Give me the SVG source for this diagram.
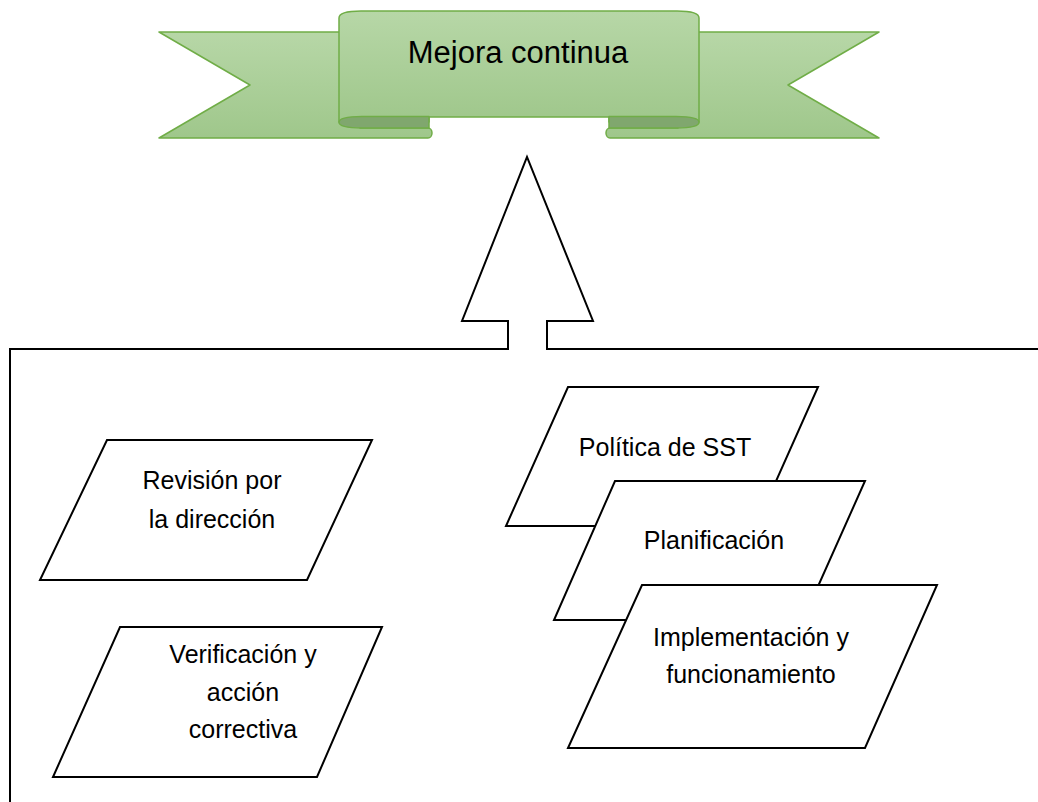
<svg xmlns="http://www.w3.org/2000/svg" width="1038" height="802" viewBox="0 0 1038 802">
<style>
.t{font-family:"Liberation Sans",Arial,sans-serif;font-size:25px;fill:#000;text-anchor:middle}
.title{font-family:"Liberation Sans",Arial,sans-serif;font-size:31px;fill:#000;text-anchor:middle}
.pg{fill:#fff;stroke:#000;stroke-width:2;stroke-linejoin:miter}
.rib{fill:url(#g);stroke:#70ad47;stroke-width:1.5;stroke-linejoin:round}
.fold{fill:#80a76e;stroke:#70ad47;stroke-width:1.5;stroke-linejoin:round}
.line{fill:none;stroke:#000;stroke-width:2;stroke-linejoin:miter}
</style>
<defs>
<linearGradient id="g" x1="0" y1="0" x2="0" y2="1" gradientUnits="objectBoundingBox">
<stop offset="0" stop-color="#b7d7a7"/>
<stop offset="1" stop-color="#9fc78b"/>
</linearGradient>
<g id="halfRibbon">
<path class="rib" d="M159,32 L360,32 L360,128 L428,128 A4,5 0 0 1 428,138 L159,138 L250,85 Z"/>
</g>
<g id="halfFold">
<path class="fold" d="M429,116.5 L362,116.5 Q339,116.5 339,122.3 Q339,128 362,128 L429,128 Z"/>
</g>
</defs>
<rect width="1038" height="802" fill="#fff"/>
<g id="banner">
<use href="#halfRibbon"/>
<use href="#halfRibbon" transform="translate(1038,0) scale(-1,1)"/>
<path class="rib" d="M339,122 L339,18 Q339,11 361,11 L677,11 Q699,11 699,18 L699,122 L609,122 L609,117 L429,117 L429,122 Z"/>
<use href="#halfFold"/>
<use href="#halfFold" transform="translate(1038,0) scale(-1,1)"/>
<text class="title" x="518" y="63">Mejora continua</text>
</g>
<g id="connectors">
<path class="line" d="M10,802 L10,349 L508,349 L508,321 L462,321 L527,157 L593,321 L547,321 L547,349 L1040,349"/>
</g>
<g id="politica">
<polygon class="pg" points="568,387 818,387 756,526 506,526"/>
<text class="t" x="665" y="456">Política de SST</text>
</g>
<g id="planificacion">
<polygon class="pg" points="615,481 865,481 803,620 554,620"/>
<text class="t" x="714" y="549">Planificación</text>
</g>
<g id="implementacion">
<polygon class="pg" points="642,585 937,585 865,748 568,748"/>
<text class="t" x="751" y="646">Implementación y</text>
<text class="t" x="751" y="683">funcionamiento</text>
</g>
<g id="revision">
<polygon class="pg" points="107,440 372,440 307,580 40,580"/>
<text class="t" x="212" y="489">Revisión por</text>
<text class="t" x="212" y="528">la dirección</text>
</g>
<g id="verificacion">
<polygon class="pg" points="120,627 382,627 317,777 53,777"/>
<text class="t" x="243" y="663">Verificación y</text>
<text class="t" x="243" y="701">acción</text>
<text class="t" x="243" y="738">correctiva</text>
</g>
</svg>
